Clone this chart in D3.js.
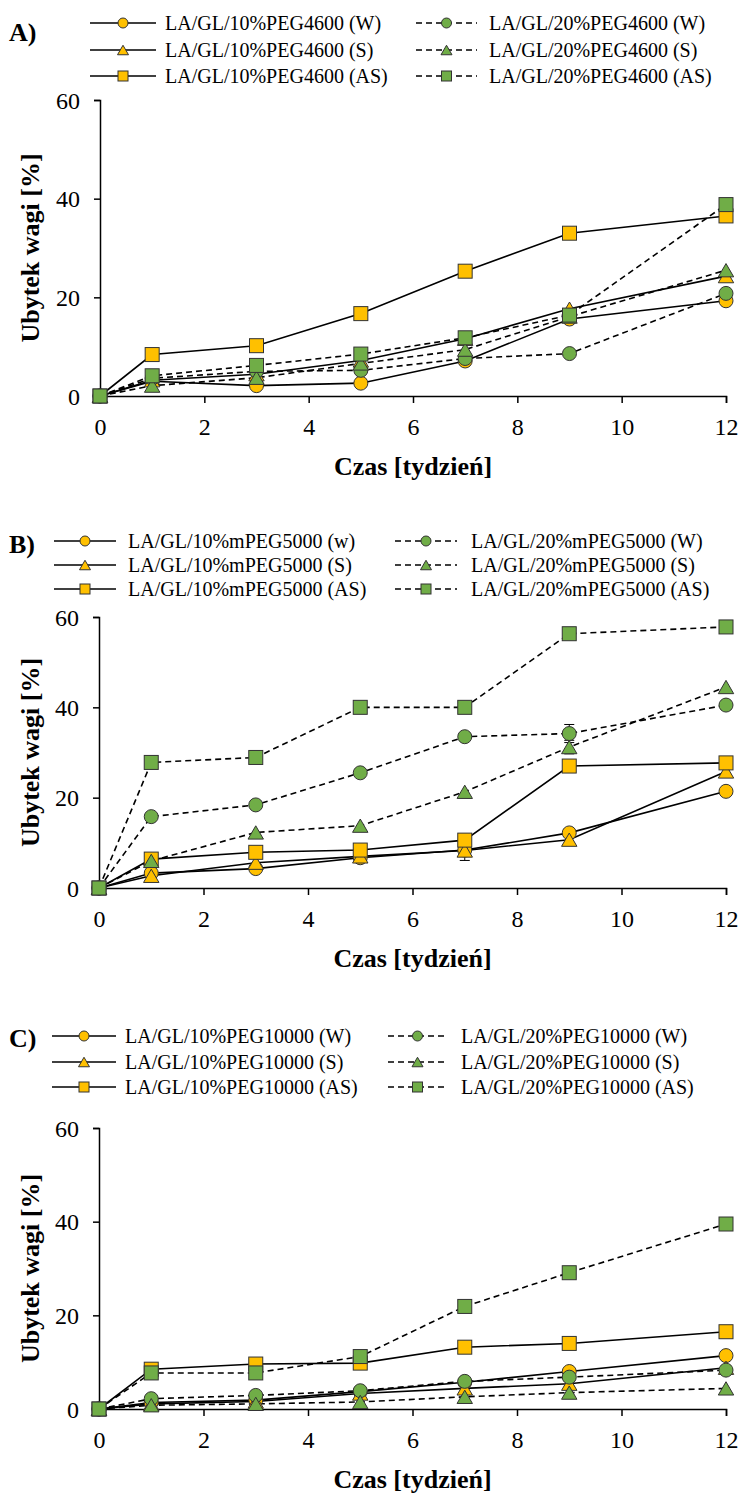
<!DOCTYPE html>
<html>
<head>
<meta charset="utf-8">
<script src="https://cdn.jsdelivr.net/npm/d3@7"></script>
<style>
html,body{margin:0;padding:0;background:#fff;}
svg{display:block;}
</style>
</head>
<body>
<svg id="chart" width="742" height="1495"></svg>
<script>
// ---------- DATA ----------
const weeks = [0, 1, 3, 5, 7, 9, 12];
const xTicks = [0, 2, 4, 6, 8, 10, 12];
const yTicks = [0, 20, 40, 60];

// Panel A (PEG4600)
const labelsA = ["LA/GL/10%PEG4600 (W)", "LA/GL/10%PEG4600 (S)", "LA/GL/10%PEG4600 (AS)",
                 "LA/GL/20%PEG4600 (W)", "LA/GL/20%PEG4600 (S)", "LA/GL/20%PEG4600 (AS)"];
const a10W  = [0, 3.0, 2.1, 2.6, 7.1, 15.6, 19.3];
const a10S  = [0, 3.2, 4.4, 7.2, 11.6, 17.7, 24.3];
const a10AS = [0, 8.4, 10.2, 16.7, 25.3, 33.0, 36.5];
const a20W  = [0, 3.6, 5.0, 5.2, 7.6, 8.6, 20.8];
const a20S  = [0, 2.1, 3.7, 6.6, 9.4, 16.1, 25.5];
const a20AS = [0, 4.1, 6.2, 8.5, 11.8, 16.4, 38.8];

// Panel B (mPEG5000)
const labelsB = ["LA/GL/10%mPEG5000 (w)", "LA/GL/10%mPEG5000 (S)", "LA/GL/10%mPEG5000 (AS)",
                 "LA/GL/20%mPEG5000 (W)", "LA/GL/20%mPEG5000 (S)", "LA/GL/20%mPEG5000 (AS)"];
const b10W  = [0, 3.3, 4.3, 6.7, 8.4, 12.2, 21.4];
const b10S  = [0, 2.7, 5.6, 7.0, 8.3, 10.7, 25.8];
const b10AS = [0, 6.4, 7.9, 8.4, 10.6, 27.0, 27.7];
const b20W  = [0, 15.8, 18.4, 25.5, 33.5, 34.2, 40.5];
const b20S  = [0, 6.0, 12.3, 13.8, 21.3, 31.2, 44.5];
const b20AS = [0, 27.8, 28.9, 40.0, 40.0, 56.3, 57.8];
// error bars visible in panel B
const b10Serr = [0, 0, 0, 0, 2.2, 0, 0];
const b20Werr = [0, 0, 0, 0, 0, 2.0, 0];
const b20Serr = [0, 0, 0, 0, 0, 1.5, 0];

// Panel C (PEG10000)
const labelsC = ["LA/GL/10%PEG10000 (W)", "LA/GL/10%PEG10000 (S)", "LA/GL/10%PEG10000 (AS)",
                 "LA/GL/20%PEG10000 (W)", "LA/GL/20%PEG10000 (S)", "LA/GL/20%PEG10000 (AS)"];
const c10W  = [0, 1.4, 1.9, 3.7, 5.7, 8.0, 11.4];
const c10S  = [0, 1.1, 1.6, 3.3, 4.4, 5.4, 8.8];
const c10AS = [0, 8.5, 9.6, 9.8, 13.2, 14.0, 16.5];
const c20W  = [0, 2.2, 2.9, 3.9, 5.9, 6.8, 8.3];
const c20S  = [0, 0.8, 1.1, 1.5, 2.6, 3.5, 4.4];
const c20AS = [0, 7.7, 7.7, 11.2, 21.9, 29.1, 39.5];

const panelLetters = ["A)", "B)", "C)"];
const xTitle = "Czas [tydzień]";
const yTitle = "Ubytek wagi [%]";

// ---------- STYLE / LAYOUT ----------
const YELLOW = "#FFC000", GREEN = "#70AD47";
const FONT = "'Liberation Serif','Times New Roman',Times,serif";
const shapes = ["circle", "triangle", "square", "circle", "triangle", "square"];
const fills = [YELLOW, YELLOW, YELLOW, GREEN, GREEN, GREEN];
const dashed = [false, false, false, true, true, true];

const panels = [
  { letter: panelLetters[0], labels: labelsA, series: [a10W, a10S, a10AS, a20W, a20S, a20AS], errs: null,
    left: 100, right: 726, top: 100, bottom: 396,
    legendRows: [23, 50, 76], letterY: 32,
    leg: { l1: 90, l2: 156, t1: 165, r1: 416, r2: 477, t2: 489 } },
  { letter: panelLetters[1], labels: labelsB, series: [b10W, b10S, b10AS, b20W, b20S, b20AS],
    errs: [null, b10Serr, null, b20Werr, b20Serr, null],
    left: 99, right: 726, top: 617, bottom: 888,
    legendRows: [541, 565, 589], letterY: 544,
    leg: { l1: 54, l2: 116, t1: 128, r1: 395, r2: 457, t2: 471 } },
  { letter: panelLetters[2], labels: labelsC, series: [c10W, c10S, c10AS, c20W, c20S, c20AS], errs: null,
    left: 99, right: 726, top: 1128, bottom: 1409,
    legendRows: [1036, 1062, 1087], letterY: 1038,
    leg: { l1: 52, l2: 116, t1: 125, r1: 388, r2: 447, t2: 461 } }
];

const svg = d3.select("#chart");

function marker(g, shape, fill, x, y, s) {
  if (shape === "circle") {
    g.append("circle").attr("cx", x).attr("cy", y).attr("r", s / 2)
      .attr("fill", fill).attr("stroke", "#333").attr("stroke-width", 1);
  } else if (shape === "square") {
    g.append("rect").attr("x", x - s / 2).attr("y", y - s / 2).attr("width", s).attr("height", s)
      .attr("fill", fill).attr("stroke", "#333").attr("stroke-width", 1);
  } else {
    const h = s * 0.95, w = s * 1.1;
    g.append("path")
      .attr("d", `M${x},${y - h / 2}L${x + w / 2},${y + h / 2}L${x - w / 2},${y + h / 2}Z`)
      .attr("fill", fill).attr("stroke", "#333").attr("stroke-width", 1);
  }
}

panels.forEach(p => {
  const g = svg.append("g");
  const x = d3.scaleLinear().domain([0, 12]).range([p.left, p.right]);
  const y = d3.scaleLinear().domain([0, 60]).range([p.bottom, p.top]);

  // axes
  const xAxis = g.append("g").attr("transform", `translate(0,${p.bottom})`)
    .call(d3.axisBottom(x).tickValues(xTicks).tickSize(7).tickPadding(15).tickFormat(d3.format("d")));
  const yAxis = g.append("g").attr("transform", `translate(${p.left},0)`)
    .call(d3.axisLeft(y).tickValues(yTicks).tickSize(6).tickPadding(14).tickFormat(d3.format("d")));
  [xAxis, yAxis].forEach(a => {
    a.attr("font-family", FONT).attr("font-size", 24);
    a.select(".domain").attr("stroke", "#000").attr("stroke-width", 1.5);
    a.selectAll(".tick line").attr("stroke", "#000").attr("stroke-width", 1.5);
    a.selectAll(".tick text").attr("font-family", FONT).attr("font-size", 24).attr("fill", "#000");
  });
  yAxis.selectAll(".tick text").attr("dy", "0.34em");

  // axis titles
  g.append("text").attr("x", (p.left + p.right) / 2).attr("y", p.bottom + 79)
    .attr("text-anchor", "middle").attr("font-family", FONT).attr("font-weight", "bold")
    .attr("font-size", 26).text(xTitle);
  g.append("text").attr("transform", `translate(39,${(p.top + p.bottom) / 2}) rotate(-90)`)
    .attr("text-anchor", "middle").attr("font-family", FONT).attr("font-weight", "bold")
    .attr("font-size", 26).text(yTitle);

  // panel letter
  g.append("text").attr("x", 9).attr("y", p.letterY + 9).attr("font-family", FONT)
    .attr("font-weight", "bold").attr("font-size", 26).text(p.letter);

  // lines
  const line = d3.line().x((d, i) => x(weeks[i])).y(d => y(d));
  p.series.forEach((s, k) => {
    g.append("path").datum(s).attr("d", line).attr("fill", "none")
      .attr("stroke", "#000").attr("stroke-width", 1.6)
      .attr("stroke-dasharray", dashed[k] ? "6,4" : null);
  });
  // error bars
  if (p.errs) {
    p.errs.forEach((e, k) => {
      if (!e) return;
      e.forEach((v, i) => {
        if (!v) return;
        const cx = x(weeks[i]), v0 = p.series[k][i];
        g.append("line").attr("x1", cx).attr("x2", cx).attr("y1", y(v0 - v)).attr("y2", y(v0 + v))
          .attr("stroke", "#000").attr("stroke-width", 1);
        [v0 - v, v0 + v].forEach(vv => g.append("line").attr("x1", cx - 5).attr("x2", cx + 5)
          .attr("y1", y(vv)).attr("y2", y(vv)).attr("stroke", "#000").attr("stroke-width", 1));
      });
    });
  }
  // markers
  p.series.forEach((s, k) => {
    const mg = g.append("g");
    s.forEach((v, i) => marker(mg, shapes[k], fills[k], x(weeks[i]), y(v), 14));
  });

  // legend
  const L = p.leg;
  p.labels.forEach((lab, k) => {
    const col = k < 3 ? 0 : 1;
    const row = k % 3;
    const ly = p.legendRows[row];
    const x1 = col === 0 ? L.l1 : L.r1, x2 = col === 0 ? L.l2 : L.r2, tx = col === 0 ? L.t1 : L.t2;
    g.append("line").attr("x1", x1).attr("x2", x2).attr("y1", ly).attr("y2", ly)
      .attr("stroke", "#000").attr("stroke-width", 1.6)
      .attr("stroke-dasharray", dashed[k] ? "6,4" : null);
    marker(g, shapes[k], fills[k], (x1 + x2) / 2, ly, 10);
    g.append("text").attr("x", tx).attr("y", ly).attr("dy", "0.35em")
      .attr("font-family", FONT).attr("font-size", 20).text(lab);
  });
});
</script>
</body>
</html>
